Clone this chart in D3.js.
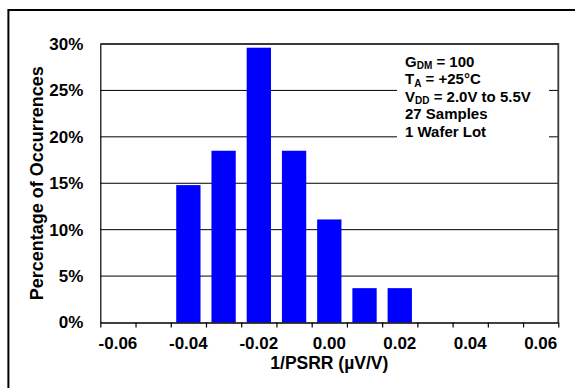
<!DOCTYPE html>
<html>
<head>
<meta charset="utf-8">
<script src="https://cdn.jsdelivr.net/npm/d3@7"></script>
<style>
  html, body { margin: 0; padding: 0; background: #fff; }
  svg { display: block; }
  text { font-family: "Liberation Sans", Arial, sans-serif; font-weight: bold; fill: #000; }
</style>
</head>
<body>
<svg id="chart" width="575" height="388"></svg>
<script>
// ---- data ----
const categories = ["-0.06","-0.05","-0.04","-0.03","-0.02","-0.01","0.00","0.01","0.02","0.03","0.04","0.05","0.06"];
const percentages = [0, 0, 14.8, 18.5, 29.6, 18.5, 11.1, 3.7, 3.7, 0, 0, 0, 0];
const yTicks = [0, 5, 10, 15, 20, 25, 30];
const xLabelsShown = ["-0.06","-0.04","-0.02","0.00","0.02","0.04","0.06"];
const notes = [
  [["G", ""], ["DM", "sub"], [" = 100", ""]],
  [["T", ""], ["A", "sub"], [" = +25°C", ""]],
  [["V", ""], ["DD", "sub"], [" = 2.0V to 5.5V", ""]],
  [["27 Samples", ""]],
  [["1 Wafer Lot", ""]]
];
const xTitle = "1/PSRR (µV/V)";
const yTitle = "Percentage of Occurrences";

// ---- layout ----
const svg = d3.select("#chart");
const L = 100.3, R = 558.3, T = 44, B = 322.5;

const x = d3.scaleBand().domain(categories).range([L, R]).paddingInner(0.31).paddingOuter(0.155);
const y = d3.scaleLinear().domain([0, 30]).range([B, T]);
const xEdges = d3.scalePoint().domain(d3.range(categories.length + 1)).range([L, R]);

// outer frame
svg.append("path").attr("d", "M8.4,388V10H575").attr("fill", "none").attr("stroke", "#000").attr("stroke-width", 2);

// gridlines
svg.append("g").selectAll("line").data(yTicks.filter(d => d > 0 && d < 30)).join("line")
  .attr("x1", L).attr("x2", R).attr("y1", d => y(d)).attr("y2", d => y(d))
  .attr("stroke", "#000").attr("stroke-width", 1);

// annotation background box
svg.append("rect").attr("x", 397).attr("y", 50).attr("width", 152).attr("height", 92).attr("fill", "#fff");

// bars
svg.append("g").selectAll("rect").data(categories.map((c, i) => ({c, v: percentages[i]})).filter(d => d.v > 0)).join("rect")
  .attr("x", d => x(d.c)).attr("width", x.bandwidth())
  .attr("y", d => y(d.v)).attr("height", d => B - y(d.v))
  .attr("fill", "#0000ff");

// plot border: top and right
svg.append("path").attr("d", `M${L},${T}H${R}V${B}`).attr("fill", "none").attr("stroke", "#3a3a3a").attr("stroke-width", 1.8);

// y axis
const yAxis = svg.append("g").attr("transform", `translate(${L},0)`)
  .call(d3.axisLeft(y).tickValues(yTicks).tickFormat(d => d + "%").tickSize(0).tickPadding(17));
yAxis.select(".domain").attr("stroke", "#000").attr("stroke-width", 1.2);
yAxis.selectAll("text").style("font-size", "17px").style("font-family", "Liberation Sans, Arial, sans-serif").style("font-weight", "bold");

// x axis: tick marks at category boundaries
const xTickAxis = svg.append("g").attr("transform", `translate(0,${B})`)
  .call(d3.axisBottom(xEdges).tickFormat("").tickSizeInner(5).tickSizeOuter(0));
xTickAxis.select(".domain").attr("stroke", "#000").attr("stroke-width", 1.6);
xTickAxis.selectAll(".tick line").attr("stroke", "#000").attr("stroke-width", 1.2);

// x axis: labels centered in categories
const xLabelAxis = svg.append("g").attr("transform", `translate(0,${B})`)
  .call(d3.axisBottom(x).tickValues(xLabelsShown).tickSize(0).tickPadding(14));
xLabelAxis.select(".domain").remove();
xLabelAxis.selectAll("text").style("font-size", "17px").style("font-family", "Liberation Sans, Arial, sans-serif").style("font-weight", "bold");

// axis titles
svg.append("text").attr("x", (L + R) / 2).attr("y", 368.5).attr("text-anchor", "middle")
  .style("font-size", "17.5px").text(xTitle);
svg.append("text").attr("transform", `translate(42.5,${(T + B) / 2}) rotate(-90)`).attr("text-anchor", "middle")
  .style("font-size", "18px").text(yTitle);

// annotation
const ann = svg.append("g");
notes.forEach((parts, i) => {
  const t = ann.append("text").attr("x", 405).attr("y", 66.5 + i * 17.5).style("font-size", "15px");
  parts.forEach(([s, kind]) => {
    if (kind === "sub") {
      t.append("tspan").attr("dy", 2.5).style("font-size", "10px").text(s);
    } else {
      const ts = t.append("tspan").text(s);
      if (t.selectAll("tspan").size() > 1) ts.attr("dy", -2.5);
    }
  });
});
</script>
</body>
</html>
